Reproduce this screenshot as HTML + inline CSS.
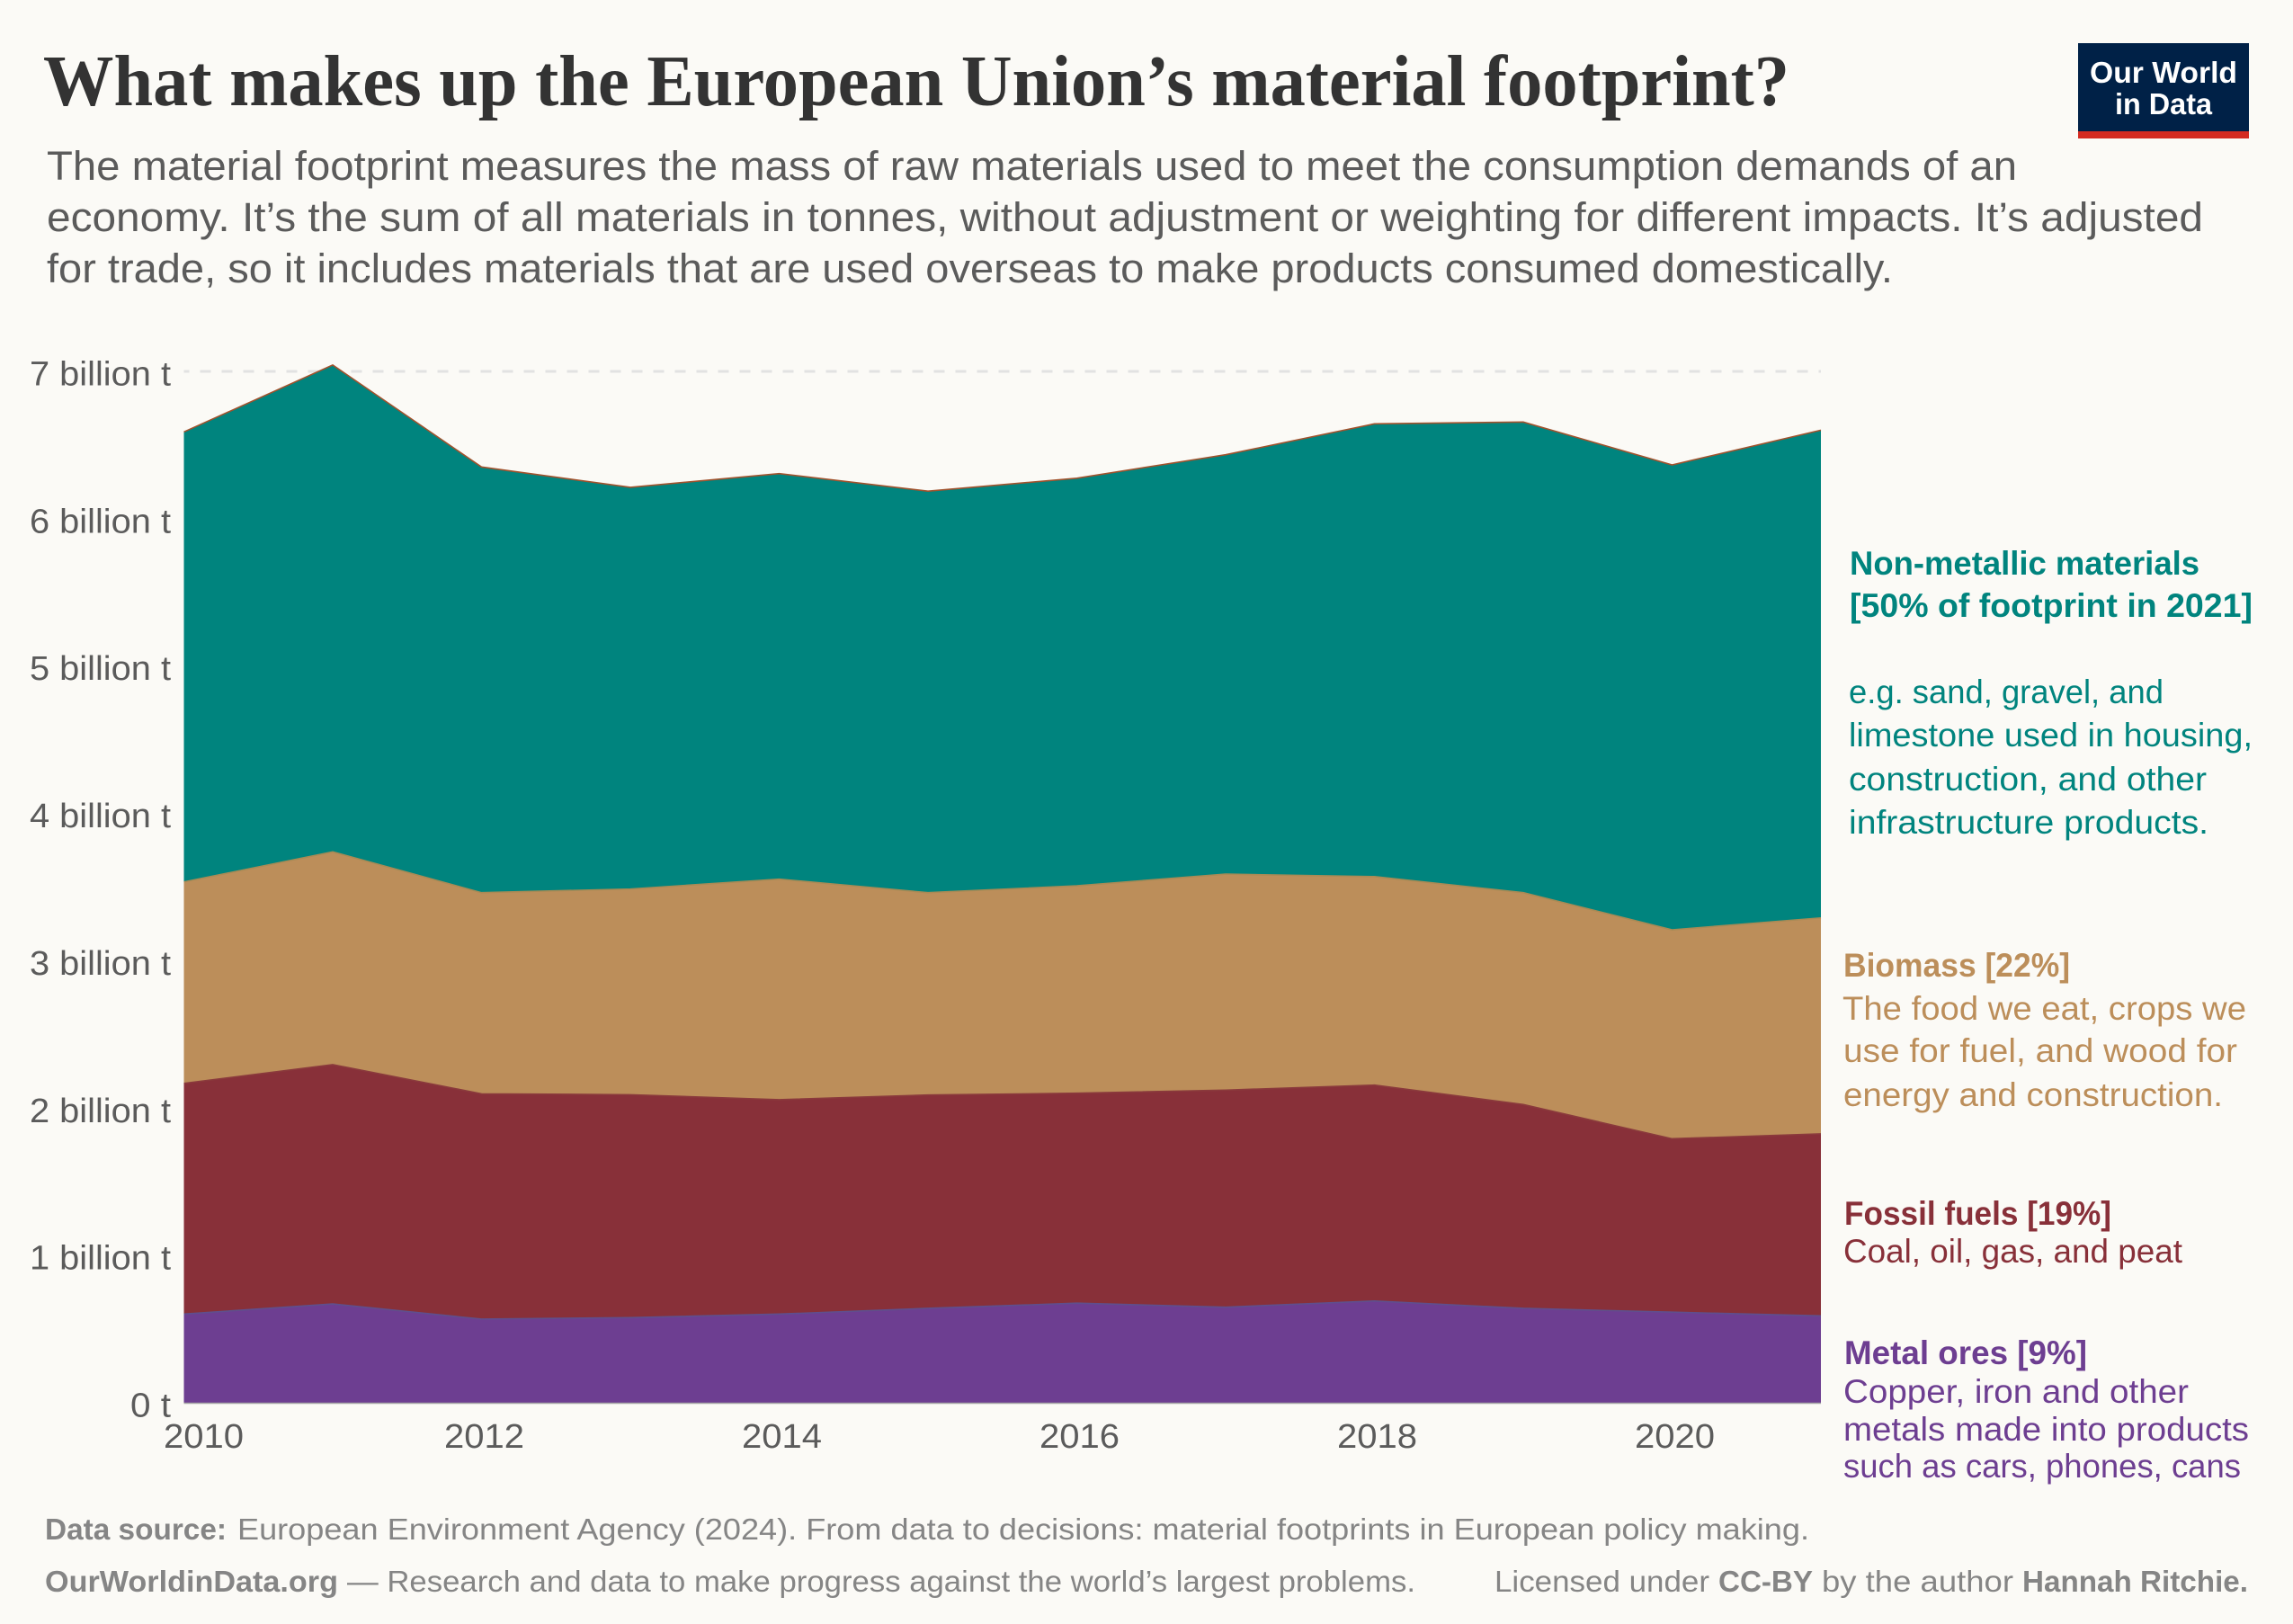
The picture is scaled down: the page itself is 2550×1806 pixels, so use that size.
<!DOCTYPE html>
<html lang="en">
<head>
<meta charset="utf-8">
<title>What makes up the European Union's material footprint?</title>
<style>
html,body{margin:0;padding:0;background:#fbfaf6;}
svg{display:block;}
text{font-family:"Liberation Sans",sans-serif;}
.title{font-family:"Liberation Serif",serif;font-weight:700;font-size:80px;fill:#333333;}
.sub{font-size:45px;fill:#5b5b5b;}
.tick{font-size:38px;fill:#5b5b5b;}
.leg{font-size:37px;}
.b{font-weight:700;}
.foot{font-size:33px;fill:#858585;}
.logo{font-size:33px;font-weight:700;fill:#ffffff;}
</style>
</head>
<body>
<svg id="chart" xmlns="http://www.w3.org/2000/svg" width="2550" height="1806" viewBox="0 0 2550 1806">
  <rect x="0" y="0" width="2550" height="1806" fill="#fbfaf6"/>
  <text class="title" x="48" y="117" textLength="1942" lengthAdjust="spacingAndGlyphs">What makes up the European Union’s material footprint?</text>
  <text class="sub" x="52" y="200" textLength="2191" lengthAdjust="spacingAndGlyphs">The material footprint measures the mass of raw materials used to meet the consumption demands of an</text>
  <text class="sub" x="52" y="257" textLength="2398" lengthAdjust="spacingAndGlyphs">economy. It’s the sum of all materials in tonnes, without adjustment or weighting for different impacts. It’s adjusted</text>
  <text class="sub" x="52" y="314" textLength="2053" lengthAdjust="spacingAndGlyphs">for trade, so it includes materials that are used overseas to make products consumed domestically.</text>

  <g>
    <rect x="2311" y="48" width="190" height="106" fill="#002147"/>
    <rect x="2311" y="146" width="190" height="8" fill="#d42b21"/>
    <text class="logo" x="2324" y="92" textLength="164" lengthAdjust="spacingAndGlyphs">Our World</text>
    <text class="logo" x="2352" y="127" textLength="108" lengthAdjust="spacingAndGlyphs">in Data</text>
  </g>

  <g id="gridlines"></g>
  <g id="areas"></g>
  <g id="yticks"></g>
  <g id="xticks"></g>

  <g fill="#00847e">
    <text class="leg b" x="2057" y="639" textLength="389" lengthAdjust="spacingAndGlyphs">Non-metallic materials</text>
    <text class="leg b" x="2057" y="686" textLength="448" lengthAdjust="spacingAndGlyphs">[50% of footprint in 2021]</text>
    <text class="leg" x="2056" y="782" textLength="350" lengthAdjust="spacingAndGlyphs">e.g. sand, gravel, and</text>
    <text class="leg" x="2056" y="830" textLength="449" lengthAdjust="spacingAndGlyphs">limestone used in housing,</text>
    <text class="leg" x="2056" y="879" textLength="398" lengthAdjust="spacingAndGlyphs">construction, and other</text>
    <text class="leg" x="2056" y="927" textLength="400" lengthAdjust="spacingAndGlyphs">infrastructure products.</text>
  </g>
  <g fill="#bc8e5a">
    <text class="leg b" x="2050" y="1086" textLength="252" lengthAdjust="spacingAndGlyphs">Biomass [22%]</text>
    <text class="leg" x="2049" y="1134" textLength="449" lengthAdjust="spacingAndGlyphs">The food we eat, crops we</text>
    <text class="leg" x="2050" y="1181" textLength="438" lengthAdjust="spacingAndGlyphs">use for fuel, and wood for</text>
    <text class="leg" x="2050" y="1230" textLength="422" lengthAdjust="spacingAndGlyphs">energy and construction.</text>
  </g>
  <g fill="#883039">
    <text class="leg b" x="2051" y="1362" textLength="297" lengthAdjust="spacingAndGlyphs">Fossil fuels [19%]</text>
    <text class="leg" x="2050" y="1404" textLength="377" lengthAdjust="spacingAndGlyphs">Coal, oil, gas, and peat</text>
  </g>
  <g fill="#6d3e91">
    <text class="leg b" x="2051" y="1517" textLength="270" lengthAdjust="spacingAndGlyphs">Metal ores [9%]</text>
    <text class="leg" x="2050" y="1560" textLength="384" lengthAdjust="spacingAndGlyphs">Copper, iron and other</text>
    <text class="leg" x="2050" y="1602" textLength="451" lengthAdjust="spacingAndGlyphs">metals made into products</text>
    <text class="leg" x="2050" y="1643" textLength="442" lengthAdjust="spacingAndGlyphs">such as cars, phones, cans</text>
  </g>

  <g>
    <text class="foot b" x="50" y="1712" textLength="202" lengthAdjust="spacingAndGlyphs">Data source:</text>
    <text class="foot" x="264" y="1712" textLength="1748" lengthAdjust="spacingAndGlyphs">European Environment Agency (2024). From data to decisions: material footprints in European policy making.</text>
    <text class="foot b" x="50" y="1770" textLength="326" lengthAdjust="spacingAndGlyphs">OurWorldinData.org</text>
    <text class="foot" x="386" y="1770" textLength="1188" lengthAdjust="spacingAndGlyphs">— Research and data to make progress against the world’s largest problems.</text>
    <text class="foot" x="1662" y="1770" textLength="239" lengthAdjust="spacingAndGlyphs">Licensed under</text>
    <text class="foot b" x="1911" y="1770" textLength="105" lengthAdjust="spacingAndGlyphs">CC-BY</text>
    <text class="foot" x="2026" y="1770" textLength="213" lengthAdjust="spacingAndGlyphs">by the author</text>
    <text class="foot b" x="2249" y="1770" textLength="251" lengthAdjust="spacingAndGlyphs">Hannah Ritchie.</text>
  </g>
</svg>
<script>
const years = [2010, 2011, 2012, 2013, 2014, 2015, 2016, 2017, 2018, 2019, 2020, 2021];
const metalOres = [0.602, 0.671, 0.568, 0.578, 0.602, 0.641, 0.676, 0.649, 0.691, 0.641, 0.615, 0.590];
const fossilFuels = [1.566, 1.624, 1.529, 1.513, 1.455, 1.448, 1.425, 1.473, 1.465, 1.383, 1.177, 1.235];
const biomass = [1.367, 1.444, 1.365, 1.396, 1.497, 1.373, 1.408, 1.466, 1.415, 1.438, 1.418, 1.466];
const nonMetallic = [3.054, 3.304, 2.889, 2.726, 2.752, 2.725, 2.766, 2.846, 3.073, 3.194, 3.155, 3.310];
const yTickValues = [0, 1, 2, 3, 4, 5, 6, 7];
const yTickLabels = ['0 t', '1 billion t', '2 billion t', '3 billion t', '4 billion t', '5 billion t', '6 billion t', '7 billion t'];
const xTickYears = [2010, 2012, 2014, 2016, 2018, 2020];

const NS = 'http://www.w3.org/2000/svg';
const plotLeft = 204.5, plotRight = 2025, plotBottom = 1560, unitPx = 163.86;
function xScale(year) {
  return plotLeft + (year - years[0]) / (years[years.length - 1] - years[0]) * (plotRight - plotLeft);
}
function yScale(v) {
  return plotBottom - v * unitPx;
}
function make(tag, attrs) {
  const el = document.createElementNS(NS, tag);
  for (const k in attrs) el.setAttribute(k, attrs[k]);
  return el;
}

const gridG = document.getElementById('gridlines');
const topTick = yTickValues[yTickValues.length - 1];
const grid = make('line', {x1: plotLeft, x2: plotRight, y1: yScale(topTick), y2: yScale(topTick), stroke: '#e2e2e2', 'stroke-width': 3, 'stroke-dasharray': '12 12', 'stroke-dashoffset': 6});


gridG.appendChild(grid);

const layerOrder = [
  {key: 'metal-ores', values: metalOres, fill: '#6d3e91', stroke: '#5f4f8c'},
  {key: 'fossil-fuels', values: fossilFuels, fill: '#883039', stroke: '#8a3a3c'},
  {key: 'biomass', values: biomass, fill: '#bc8e5a', stroke: '#a98a55'},
  {key: 'non-metallic', values: nonMetallic, fill: '#00847e', stroke: '#a0522d'}
];
const areasG = document.getElementById('areas');
let baseline = years.map(function () { return 0; });
const paths = [];
layerOrder.forEach(function (layer) {
  const top = baseline.map(function (b, i) { return b + layer.values[i]; });
  const upper = years.map(function (yr, i) { return xScale(yr).toFixed(2) + ',' + yScale(top[i]).toFixed(2); });
  const lower = years.map(function (yr, i) { return xScale(yr).toFixed(2) + ',' + yScale(baseline[i]).toFixed(2); }).reverse();
  paths.push({layer: layer, upper: upper, lower: lower});
  baseline = top;
});
paths.forEach(function (p) {
  const area = make('polygon', {points: p.upper.concat(p.lower).join(' '), fill: p.layer.fill});
  
  
  areasG.appendChild(area);
});
paths.forEach(function (p) {
  const edge = make('polyline', {points: p.upper.join(' '), fill: 'none', stroke: p.layer.stroke, 'stroke-width': 1.6});
  
  
  areasG.appendChild(edge);
});
const axisLine = make('line', {x1: plotLeft, x2: plotRight, y1: plotBottom + 0.5, y2: plotBottom + 0.5, stroke: '#a6a6a6', 'stroke-width': 1.5});


areasG.appendChild(axisLine);

const yG = document.getElementById('yticks');
yTickValues.forEach(function (v, i) {
  const isZero = v === 0;
  const w = isZero ? 45 : 157;
  const t = make('text', {class: 'tick', x: 190 - w, y: yScale(v) + 15.5, textLength: w, lengthAdjust: 'spacingAndGlyphs'});
  t.textContent = yTickLabels[i];
  
  
  yG.appendChild(t);
});

const xG = document.getElementById('xticks');
xTickYears.forEach(function (yr) {
  const w = 89;
  const left = Math.max(182, xScale(yr) + 3 - w / 2);
  const t = make('text', {class: 'tick', x: left, y: 1610, textLength: w, lengthAdjust: 'spacingAndGlyphs'});
  t.textContent = String(yr);
  
  
  xG.appendChild(t);
});
</script>
</body>
</html>
